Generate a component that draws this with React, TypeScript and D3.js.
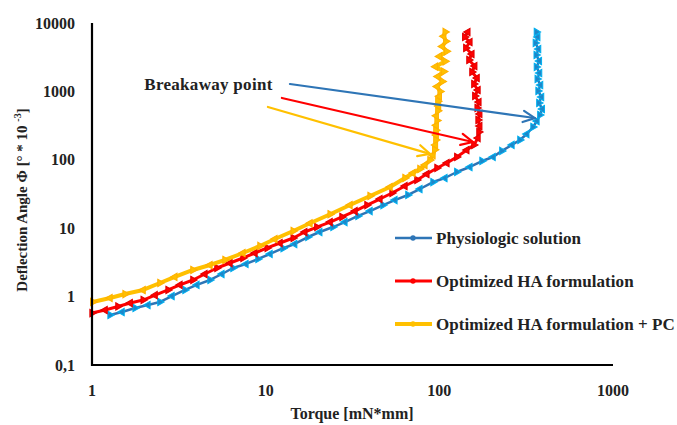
import React from 'react';
import * as d3 from 'd3';

const xTicks = [1, 10, 100, 1000];
const xTickLabels = ['1', '10', '100', '1000'];
const yTicks = [0.1, 1, 10, 100, 1000, 10000];
const yTickLabels = ['0,1', '1', '10', '100', '1000', '10000'];

const seriesNames = ['Physiologic solution', 'Optimized HA formulation', 'Optimized HA formulation + PC'];

const physioTorque = [1.27, 1.49, 1.77, 2.10, 2.46, 2.89, 3.43, 4.02, 4.78, 5.60, 6.48, 7.70, 9.03, 10.6, 12.6, 14.7, 17.5, 20.5, 24.4, 28.6, 34.0, 39.9, 47.4, 55.5, 65.9, 77.3, 91.9, 107.7, 126, 150, 176, 204, 229, 262, 291, 319, 346, 365, 379, 392, 374, 388, 370, 383, 366, 378, 362, 377, 361, 373, 357, 369, 362];
const physioAngle = [0.538, 0.596, 0.681, 0.753, 0.834, 1.02, 1.25, 1.48, 1.75, 2.14, 2.62, 3.0, 3.55, 4.2, 5.1, 5.88, 7.43, 8.80, 10.4, 12.3, 15.1, 17.8, 21.8, 25.8, 30.6, 37.4, 47.3, 54.2, 66.3, 78.5, 96, 110, 135, 165, 195, 238, 302, 369, 452, 553, 677, 828, 1014, 1241, 1518, 1858, 2275, 2782, 3405, 4167, 5100, 6240, 7380];

const haTorque = [1.0, 1.19, 1.41, 1.66, 1.97, 2.31, 2.74, 3.21, 3.81, 4.47, 5.24, 6.23, 7.40, 8.68, 10.2, 12.1, 14.4, 16.8, 19.7, 23.5, 27.5, 32.7, 38.3, 45.5, 53.4, 63.4, 74.3, 84.8, 96.9, 110.6, 126, 144, 158, 167, 169, 171, 167, 171, 165, 169, 160, 167, 158, 165, 154, 160, 148, 154, 142, 150, 140, 146];
const haAngle = [0.575, 0.637, 0.716, 0.805, 0.891, 1.05, 1.25, 1.48, 1.75, 2.14, 2.62, 3.10, 3.67, 4.34, 5.14, 6.08, 7.19, 8.80, 10.4, 12.3, 14.6, 17.8, 21.8, 26.7, 32.7, 41.4, 50.7, 62, 75.9, 89.8, 110, 139, 165, 208, 255, 312, 382, 468, 572, 700, 857, 1048, 1282, 1570, 1923, 2350, 2877, 3523, 4313, 5277, 6240, 7380];

const haPcTorque = [1.01, 1.27, 1.55, 1.97, 2.46, 3.0, 3.81, 4.78, 5.83, 7.40, 9.27, 11.3, 14.4, 18.0, 23.5, 30.6, 39.9, 52, 63.4, 70.5, 77.3, 82.6, 88.3, 91.9, 94, 95, 95.5, 96, 95.5, 96, 97, 96, 98, 99, 98, 100, 101, 97, 104, 98, 106, 95, 108, 100, 110, 104, 109, 106, 108];
const haPcAngle = [0.834, 0.955, 1.09, 1.25, 1.58, 1.94, 2.45, 2.9, 3.43, 4.34, 5.5, 6.95, 9.1, 11.8, 16.0, 21.8, 29.6, 40, 54.2, 64, 73.3, 84, 99, 117, 140, 165, 195, 230, 270, 320, 375, 440, 520, 610, 720, 850, 1000, 1180, 1400, 1650, 1950, 2300, 2750, 3250, 3850, 4550, 5400, 6400, 7400];

// annotation arrows in data space
const arrowStartTorque = [13.8, 12.4, 10.3];
const arrowStartAngle = [1282, 801, 592];
const arrowTipTorque = [355, 156, 88.3];
const arrowTipAngle = [408, 182, 122];
const annotationText = 'Breakaway point';
const annotationTorque = 2.0;
const annotationAngle = 1250;

const lineColors = ['#2E75B6', '#FF0000', '#FFC000'];
const markerFill = ['#1F86C8', '#FF0000', '#FFC000'];
const markerStroke = ['#00B0F0', '#E00000', '#FFB000'];
const lineWidths = [2.5, 3, 4];

const W = 677;
const H = 425;
const FONT = '"Liberation Serif", "Times New Roman", serif';

export default function App() {
  const x = d3.scaleLog().domain([1, 1000]).range([92, 613]);
  const y = d3.scaleLog().domain([0.1, 10000]).range([365, 23]);

  const series = [
    { t: physioTorque, a: physioAngle },
    { t: haTorque, a: haAngle },
    { t: haPcTorque, a: haPcAngle },
  ];

  const line = d3.line<[number, number]>().x((d) => x(d[0])).y((d) => y(d[1]));
  const tri = d3.symbol().type(d3.symbolTriangle).size(24);
  const circ = d3.symbol().type(d3.symbolCircle).size(22);

  const legendY = [238, 281, 324];

  return (
    <svg width={W} height={H} style={{ position: 'absolute', left: 0, top: 0, background: '#fff' }} fontFamily={FONT}>
      <rect x={0} y={0} width={W} height={H} fill="#fff" />
      {series.map((s, i) => {
        const pts: [number, number][] = s.t.map((v, j) => [v, s.a[j]]);
        return (
          <g key={i}>
            <path d={line(pts) || ''} fill="none" stroke={lineColors[i]} strokeWidth={lineWidths[i]} strokeLinejoin="round" />
            {pts.map((p, j) => (
              <path
                key={j}
                d={tri() || ''}
                transform={`translate(${x(p[0])},${y(p[1])}) rotate(${j % 2 === 0 ? -30 : 150})`}
                fill={markerFill[i]}
                stroke={markerStroke[i]}
                strokeWidth={1}
              />
            ))}
          </g>
        );
      })}

      <line x1={x(1)} x2={x(1)} y1={y(10000)} y2={y(0.1) + 1} stroke="#000" strokeWidth={2.2} />
      <line x1={x(1) - 1} x2={x(1000)} y1={y(0.1)} y2={y(0.1)} stroke="#000" strokeWidth={2.2} />

      {yTicks.map((t, i) => (
        <text key={t} x={75} y={y(t)} textAnchor="end" dominantBaseline="central" fontSize={16} fontWeight="bold" fill="#222">
          {yTickLabels[i]}
        </text>
      ))}
      {xTicks.map((t, i) => (
        <text key={t} x={x(t)} y={390} textAnchor="middle" dominantBaseline="central" fontSize={16} fontWeight="bold" fill="#222">
          {xTickLabels[i]}
        </text>
      ))}

      <text x={352} y={413} textAnchor="middle" dominantBaseline="central" fontSize={16} fontWeight="bold" fill="#222">
        Torque [mN*mm]
      </text>
      <text transform={`translate(22,200) rotate(-90)`} textAnchor="middle" dominantBaseline="central" fontSize={15} fontWeight="bold" fill="#222">
        Deflection Angle Φ [° * 10 <tspan fontSize={10} dy={-5}>-3</tspan><tspan dy={5}>]</tspan>
      </text>

      <text x={x(annotationTorque)} y={y(annotationAngle)} dominantBaseline="central" fontSize={17} fontWeight="bold" letterSpacing={0.3} fill="#222">
        {annotationText}
      </text>
      {arrowStartTorque.map((st, i) => {
        const x1 = x(st), y1 = y(arrowStartAngle[i]);
        const x2 = x(arrowTipTorque[i]), y2 = y(arrowTipAngle[i]);
        const ang = Math.atan2(y2 - y1, x2 - x1);
        const L = 13, spread = 0.45;
        const ax1 = x2 - L * Math.cos(ang - spread), ay1 = y2 - L * Math.sin(ang - spread);
        const ax2 = x2 - L * Math.cos(ang + spread), ay2 = y2 - L * Math.sin(ang + spread);
        return (
          <g key={i} stroke={lineColors[i]} strokeWidth={2.2} fill="none" strokeLinecap="round">
            <line x1={x1} y1={y1} x2={x2} y2={y2} />
            <path d={`M${ax1},${ay1}L${x2},${y2}L${ax2},${ay2}`} />
          </g>
        );
      })}

      {seriesNames.map((n, i) => (
        <g key={n}>
          <line x1={395} x2={432} y1={legendY[i]} y2={legendY[i]} stroke={lineColors[i]} strokeWidth={lineWidths[i]} />
          <path d={circ() || ''} transform={`translate(413,${legendY[i]})`} fill={lineColors[i]} />
          <text x={436} y={legendY[i]} dominantBaseline="central" fontSize={17} fontWeight="bold" letterSpacing={0.05} fill="#222">
            {n}
          </text>
        </g>
      ))}
    </svg>
  );
}
